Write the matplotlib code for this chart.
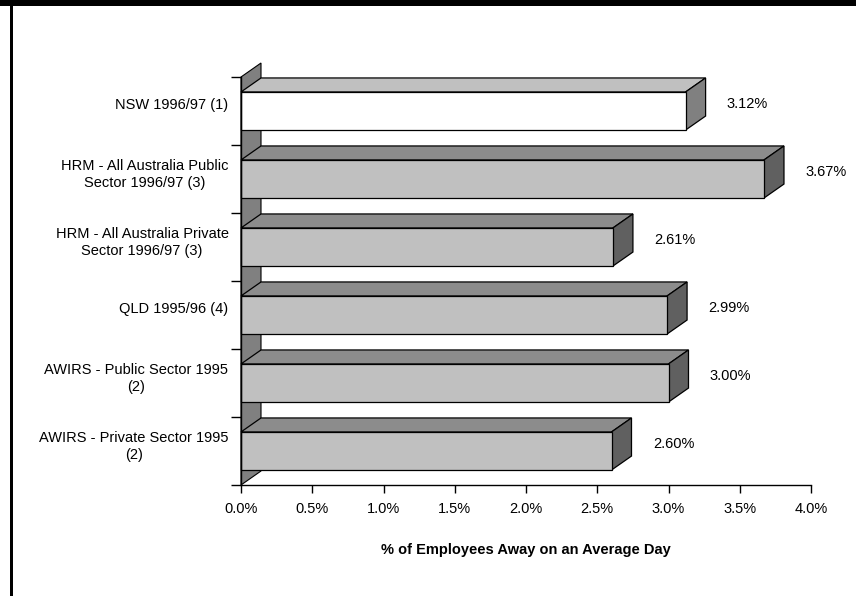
import matplotlib.pyplot as plt
from matplotlib.patches import Polygon, Rectangle

plt.rcParams["font.family"] = ["Liberation Sans", "DejaVu Sans"]

# bottom to top
categories = [
    "AWIRS - Private Sector 1995\n(2)",
    "AWIRS - Public Sector 1995\n(2)",
    "QLD 1995/96 (4)",
    "HRM - All Australia Private\nSector 1996/97 (3)",
    "HRM - All Australia Public\nSector 1996/97 (3)",
    "NSW 1996/97 (1)",
]
values = [2.60, 3.00, 2.99, 2.61, 3.67, 3.12]
value_labels = ["2.60%", "3.00%", "2.99%", "2.61%", "3.67%", "3.12%"]
xticks = [0.0, 0.5, 1.0, 1.5, 2.0, 2.5, 3.0, 3.5, 4.0]

W, H = 856, 596
fig = plt.figure(figsize=(W / 100, H / 100), dpi=100)

# frame bits around the chart
fig.patches.append(Rectangle((0, 1 - 6 / H), 1, 6 / H, transform=fig.transFigure,
                             facecolor="black", edgecolor="none"))
fig.patches.append(Rectangle((10 / W, 0), 2.5 / W, 1, transform=fig.transFigure,
                             facecolor="black", edgecolor="none"))

ax = fig.add_axes([241 / W, (H - 485) / H, 570 / W, 408 / H])
ax.set_xlim(0, 4)
ax.set_ylim(0, len(categories))

# oblique depth in data units
dx = 20 / 142.5
dy = 14 / 68
half = 0.28

# floor panel along the value axis origin
floor = Polygon([(0, 0), (dx, dy), (dx, len(categories) + dy), (0, len(categories))],
                closed=True, facecolor="#808080", edgecolor="black", lw=0.8,
                clip_on=False, zorder=1)
ax.add_patch(floor)

for i, v in enumerate(values):
    c = i + 0.5
    y0, y1 = c - half, c + half
    if i == len(values) - 1:
        front, top, side = "white", "#c0c0c0", "#808080"
    else:
        front, top, side = "#c0c0c0", "#8c8c8c", "#606060"
    kw = dict(closed=True, edgecolor="black", lw=0.9, clip_on=False, zorder=2 + i * 0.01)
    ax.add_patch(Polygon([(0, y1), (v, y1), (v + dx, y1 + dy), (dx, y1 + dy)], facecolor=top, **kw))
    ax.add_patch(Polygon([(v, y0), (v + dx, y0 + dy), (v + dx, y1 + dy), (v, y1)], facecolor=side, **kw))
    ax.add_patch(Polygon([(0, y0), (v, y0), (v, y1), (0, y1)], facecolor=front, **kw))
    ax.text(v + 0.29, c + dy / 2, value_labels[i], ha="left", va="center",
            fontsize=10.5, zorder=5)

for s in ["top", "right"]:
    ax.spines[s].set_visible(False)
for s in ["left", "bottom"]:
    ax.spines[s].set_linewidth(1.0)
    ax.spines[s].set_zorder(6)

ax.set_xticks(xticks)
ax.set_xticklabels([f"{t:.1f}%" for t in xticks], fontsize=10.5)
ax.tick_params(axis="x", direction="out", length=6, width=1.0, pad=6)

ax.set_yticks(range(len(categories) + 1))
ax.set_yticklabels([])
ax.tick_params(axis="y", which="major", direction="out", length=7, width=1.0)
ax.set_yticks([i + 0.5 + dy / 2 for i in range(len(categories))], minor=True)
ax.set_yticklabels(categories, minor=True, fontsize=10.5, multialignment="center")
ax.tick_params(axis="y", which="minor", length=0, pad=9)

ax.set_xlabel("% of Employees Away on an Average Day", fontsize=10.5,
              fontweight="bold", labelpad=20)

fig.savefig("out.png", dpi=100, facecolor="white")
